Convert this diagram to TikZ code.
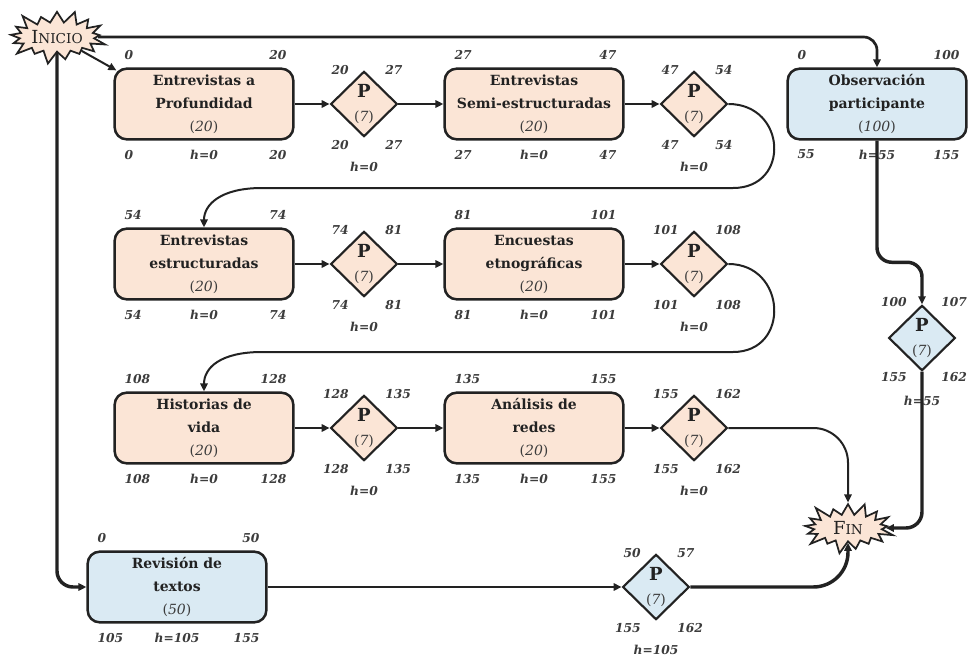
\documentclass[tikz,border=0pt]{standalone}
\usepackage{fontspec}
\setmainfont{DejaVu Serif}
\usetikzlibrary{shapes.geometric,shapes.symbols,arrows.meta,calc}

\definecolor{peach}{HTML}{FBE5D6}
\definecolor{skyfill}{HTML}{DAEAF3}
\definecolor{ink}{HTML}{222222}
\definecolor{numgray}{HTML}{3C3C3C}

% duration in parentheses, e.g. (20)
\newcommand\cnt[1]{{\mdseries\color{numgray}(\textit{#1})}}
% text of a P diamond
\newcommand\ptext{{\fontsize{13.5}{18}\selectfont\bfseries P}\\\cnt{7}}
% numbers around an activity box: name, top-left, top-right, bottom-left, slack, bottom-right
\newcommand\boxnums[6]{%
  \node[num, anchor=west] (#1-tl) at ($(#1.north west)+(11,-12)$) {#2};
  \node[num, anchor=east] (#1-tr) at ($(#1.north east)+(-8,-12)$) {#3};
  \node[num, anchor=west] (#1-bl) at ($(#1.south west)+(11,14)$) {#4};
  \node[num] (#1-h) at ($(#1.south)+(0,14)$) {#5};
  \node[num, anchor=east] (#1-br) at ($(#1.south east)+(-8,14)$) {#6};
}
% numbers around a P diamond: name, top-left, top-right, bottom-left, bottom-right, slack
\newcommand\pnums[6]{%
  \node[num, anchor=east] (#1-tl) at ($(#1.center)+(-15,-34)$) {#2};
  \node[num, anchor=west] (#1-tr) at ($(#1.center)+(21,-34)$) {#3};
  \node[num, anchor=east] (#1-bl) at ($(#1.center)+(-15,41)$) {#4};
  \node[num, anchor=west] (#1-br) at ($(#1.center)+(21,41)$) {#5};
  \node[num] (#1-h) at ($(#1.center)+(0,63)$) {#6};
}

\begin{document}
\begin{tikzpicture}[x=0.75pt, y=-0.75pt,
  task/.style={rectangle, draw=ink, line width=1.9pt, rounded corners=9pt,
    minimum width=134pt, minimum height=53pt, inner sep=0pt, align=center,
    font=\bfseries\fontsize{10.5}{17.25}\selectfont, text=ink},
  peachbox/.style={task, fill=peach},
  bluebox/.style={task, fill=skyfill},
  pnode/.style={diamond, draw=ink, line width=1.6pt, minimum width=50pt,
    minimum height=49pt, inner sep=0pt, align=center,
    font=\fontsize{10.5}{18}\selectfont, text=ink},
  num/.style={font=\bfseries\itshape\fontsize{9.2}{11}\selectfont, text=numgray, inner sep=0pt},
  burst/.style={starburst, starburst points=17, starburst point height=11pt,
    draw=ink, fill=peach, line width=1.3pt, inner sep=0pt, text=ink},
  tip/.style={-{Triangle[length=6pt,width=5.5pt]}},
  flow/.style={draw=ink, line width=1.5pt, tip},
  mainline/.style={draw=ink, line width=2pt, tip},
  crit/.style={draw=ink, line width=2.6pt, tip}
]
\fill[white] (0,0) rectangle (972,657);
\useasboundingbox (0,0) rectangle (972,657);

% start and end
\node[burst, minimum width=78pt, minimum height=44pt] (inicio) at (57,37)
  {{\fontsize{13.5}{14}\selectfont I}{\fontsize{10.2}{14}\selectfont NICIO}};
\node[burst, minimum width=73pt, minimum height=42pt] (fin) at (848,528)
  {{\fontsize{13.5}{14}\selectfont F}{\fontsize{10.2}{14}\selectfont IN}};

% interview chain, row 1
\node[peachbox] (b1) at (204,104) {Entrevistas a\\Profundidad\\\cnt{20}};
\node[pnode, fill=peach] (p1) at (364,104) {\ptext};
\node[peachbox] (b2) at (534,104) {Entrevistas\\Semi-estructuradas\\\cnt{20}};
\node[pnode, fill=peach] (p2) at (694,104) {\ptext};
\node[bluebox] (obs) at (877,104) {Observación\\participante\\\cnt{100}};

% row 2
\node[peachbox] (b3) at (204,264) {Entrevistas\\estructuradas\\\cnt{20}};
\node[pnode, fill=peach] (p3) at (364,264) {\ptext};
\node[peachbox] (b4) at (534,264) {Encuestas\\etnográficas\\\cnt{20}};
\node[pnode, fill=peach] (p4) at (694,264) {\ptext};

% row 3
\node[peachbox] (b5) at (204,428) {Historias de\\vida\\\cnt{20}};
\node[pnode, fill=peach] (p5) at (364,428) {\ptext};
\node[peachbox] (b6) at (534,428) {Análisis de\\redes\\\cnt{20}};
\node[pnode, fill=peach] (p6) at (694,428) {\ptext};

% observation branch and document review
\node[pnode, fill=skyfill] (pobs) at (922,338) {\ptext};
\node[bluebox] (rev) at (177,587) {Revisión de\\textos\\\cnt{50}};
\node[pnode, fill=skyfill] (prev) at (656,587) {\ptext};

% schedule numbers
\boxnums{b1}{0}{20}{0}{h=0}{20}
\pnums{p1}{20}{27}{20}{27}{h=0}
\boxnums{b2}{27}{47}{27}{h=0}{47}
\pnums{p2}{47}{54}{47}{54}{h=0}
\boxnums{obs}{0}{100}{55}{h=55}{155}
\boxnums{b3}{54}{74}{54}{h=0}{74}
\pnums{p3}{74}{81}{74}{81}{h=0}
\boxnums{b4}{81}{101}{81}{h=0}{101}
\pnums{p4}{101}{108}{101}{108}{h=0}
\boxnums{b5}{108}{128}{108}{h=0}{128}
\pnums{p5}{128}{135}{128}{135}{h=0}
\boxnums{b6}{135}{155}{135}{h=0}{155}
\pnums{p6}{155}{162}{155}{162}{h=0}
\node[num, anchor=east] (pobs-tl) at ($(pobs.center)+(-15,-36)$) {100};
\node[num, anchor=west] (pobs-tr) at ($(pobs.center)+(19,-36)$) {107};
\node[num, anchor=east] (pobs-bl) at ($(pobs.center)+(-15,39)$) {155};
\node[num, anchor=west] (pobs-br) at ($(pobs.center)+(19,39)$) {162};
\node[num] (pobs-h) at ($(pobs.center)+(0,63)$) {h=55};
\boxnums{rev}{0}{50}{105}{h=105}{155}
\pnums{prev}{50}{57}{155}{162}{h=105}

% connectors
\draw[mainline, rounded corners=10pt] (inicio) -| (obs.north);
\draw[flow] (inicio) -- ($(b1.north west)+(3,3)$);
\draw[crit, rounded corners=12pt] (inicio) |- (rev.west);

\draw[flow] (b1) -- (p1);
\draw[flow] (p1) -- (b2);
\draw[flow] (b2) -- (p2);
\draw[flow] (p2.east) .. controls +(58,0) and +(58,0) .. (733,188)
  -- (262,188) .. controls (220,188) and (204,205) .. (b3.north);

\draw[flow] (b3) -- (p3);
\draw[flow] (p3) -- (b4);
\draw[flow] (b4) -- (p4);
\draw[flow] (p4.east) .. controls +(58,0) and +(58,0) .. (733,352)
  -- (262,352) .. controls (220,352) and (204,368) .. (b5.north);

\draw[flow] (b5) -- (p5);
\draw[flow] (p5) -- (b6);
\draw[flow] (b6) -- (p6);
\draw[flow, rounded corners=26pt] (p6.east) -| (fin.north);

\draw[crit, rounded corners=11pt] (obs.south) |- ($(pobs.north)+(0,-42)$) -- (pobs.north);
\draw[crit, rounded corners=12pt] (pobs.south) |- (fin.east);

\draw[flow] (rev) -- (prev);
\draw[crit, rounded corners=26pt] (prev.east) -| (fin.south);
\end{tikzpicture}
\end{document}
